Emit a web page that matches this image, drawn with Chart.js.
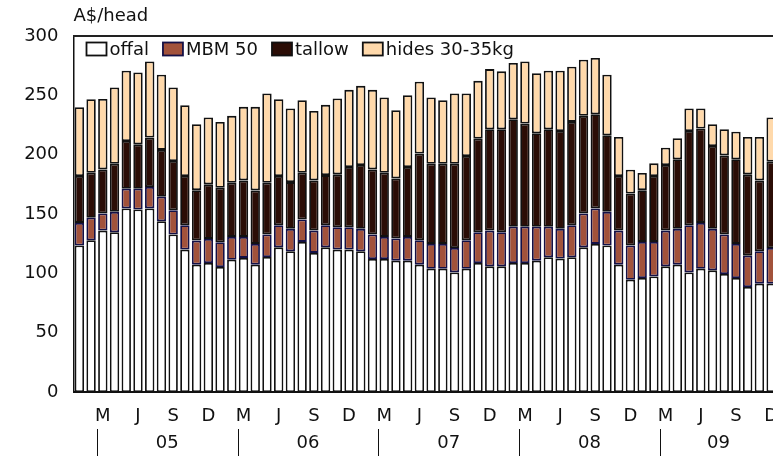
<!DOCTYPE html>
<html>
<head>
<meta charset="utf-8">
<script src="https://cdn.jsdelivr.net/npm/chart.js@4.4.1/dist/chart.umd.min.js"></script>
<style>
html,body{margin:0;padding:0;background:#fff;overflow:hidden;}
#wrap{width:777px;height:456px;}
</style>
</head>
<body>
<div id="wrap"><canvas id="c" width="777" height="456" style="width:777px;height:456px"></canvas></div>
<script>
// Months Jan 2005 .. Dec 2009
const years = [2005, 2006, 2007, 2008, 2009];
const months = [];
years.forEach(y => { for (let m = 1; m <= 12; m++) months.push(y + '-' + String(m).padStart(2, '0')); });

const monthTickLabels = {3: 'M', 6: 'J', 9: 'S', 12: 'D'};
const yearTickLabels = ['05', '06', '07', '08', '09'];
const yTicks = [0, 50, 100, 150, 200, 250, 300];
const unitLabel = 'A$/head';
const seriesNames = ['offal', 'MBM 50', 'tallow', 'hides 30-35kg'];

const offal = [123.4,127.9,136.0,134.6,154.7,153.8,154.7,143.9,132.7,120.0,107.3,108.7,
               105.4,111.5,113.0,107.3,113.8,121.9,118.6,126.5,117.2,121.9,120.0,120.0,
               118.6,112.1,112.1,110.7,110.7,107.3,103.9,103.9,100.8,103.9,108.7,105.9,
               105.9,108.7,108.7,110.7,113.5,112.4,113.5,121.9,124.8,123.4,107.3,94.6,
               96.1,97.4,105.9,107.3,100.8,103.9,102.5,99.5,96.1,88.5,91.3,91.3];
const mbm = [19.1,18.9,14.4,17.2,16.6,17.5,18.0,20.6,20.5,20.5,20.3,20.3,
             20.8,19.2,17.7,17.5,18.9,18.6,18.9,18.9,18.8,18.6,18.8,18.8,
             18.9,20.6,18.6,18.6,20.0,20.6,20.9,20.9,20.6,24.0,25.9,30.1,
             28.7,30.5,30.5,28.5,25.7,25.1,27.0,28.5,29.9,28.4,28.7,28.8,
             30.4,29.1,30.1,30.2,39.7,38.6,35.0,33.2,28.7,26.4,27.3,30.1];
const tallow = [39.5,38.0,37.2,40.6,40.2,37.4,41.7,39.5,41.4,41.5,42.5,46.0,
                45.9,45.6,47.6,45.1,43.6,41.5,39.4,39.4,42.3,42.3,44.6,50.8,
                53.8,54.9,54.1,50.7,58.9,73.0,67.6,67.6,71.0,71.0,78.9,85.4,
                86.8,90.7,87.0,78.8,82.2,82.5,87.1,82.3,79.4,64.5,46.0,43.9,
                43.6,55.5,55.3,58.6,79.5,79.5,69.8,66.7,71.3,68.5,59.7,72.7];
const hides = [58.0,62.0,59.4,64.2,59.2,60.6,64.2,63.3,62.0,59.7,55.5,56.3,
               55.5,56.4,62.0,70.4,75.2,64.8,62.0,61.1,58.6,59.2,63.9,65.0,
               66.7,67.0,63.4,57.5,60.5,60.5,55.8,53.5,59.1,52.6,48.7,50.7,
               48.8,47.3,52.4,50.7,49.3,50.7,46.5,47.3,47.3,51.0,32.9,20.0,
               14.4,10.7,14.6,17.7,18.9,16.9,18.3,22.0,23.3,31.5,36.6,37.2];

const FONT = 'DejaVu Sans';
const FS = 18;
const fills = ['#ffffff', '#a2523b', '#2b0d06', '#ffd9ab'];
const borders = ['#111111', '#141046', '#111111', '#111111'];
const seriesData = [offal, mbm, tallow, hides];

const decor = {
  id: 'decor',
  afterDraw(chart) {
    const ctx = chart.ctx, ca = chart.chartArea, xs = chart.scales.x;
    ctx.save();
    // top frame line
    ctx.strokeStyle = '#222';
    ctx.lineWidth = 2;
    ctx.beginPath();
    ctx.moveTo(ca.left - 0.5, ca.top);
    ctx.lineTo(chart.width, ca.top);
    ctx.stroke();
    // unit title
    ctx.fillStyle = '#111';
    ctx.font = FS + 'px "' + FONT + '"';
    ctx.textBaseline = 'middle';
    ctx.textAlign = 'left';
    ctx.fillText(unitLabel, ca.left, 16);
    // legend
    let x = ca.left + 13;
    const ly = 49;
    seriesNames.forEach((n, i) => {
      ctx.fillStyle = fills[i];
      ctx.fillRect(x, ly - 6.5, 20, 13);
      ctx.strokeStyle = borders[i];
      ctx.lineWidth = 1.8;
      ctx.strokeRect(x, ly - 6.5, 20, 13);
      ctx.fillStyle = '#111';
      ctx.fillText(n, x + 23, ly + 1);
      x += 23 + ctx.measureText(n).width + 14;
    });
    // year separators and labels (years run Mar..Feb)
    const sepX = [];
    years.forEach((y, k) => {
      const iMar = k * 12 + 2;
      sepX.push((xs.getPixelForValue(iMar - 1) + xs.getPixelForValue(iMar)) / 2);
    });
    ctx.strokeStyle = '#111';
    ctx.lineWidth = 1;
    sepX.forEach(sx => {
      ctx.beginPath();
      ctx.moveTo(Math.round(sx) + 0.5, 429);
      ctx.lineTo(Math.round(sx) + 0.5, 456);
      ctx.stroke();
    });
    ctx.textAlign = 'center';
    yearTickLabels.forEach((t, k) => {
      const a = sepX[k];
      const b = k + 1 < sepX.length ? sepX[k + 1] : Math.min(ca.right, chart.width);
      ctx.fillText(t, (a + b) / 2, 443);
    });
    ctx.restore();
  }
};

new Chart(document.getElementById('c'), {
  type: 'bar',
  data: {
    labels: months,
    datasets: seriesData.map((d, i) => ({
      label: seriesNames[i],
      data: d,
      backgroundColor: fills[i],
      borderColor: borders[i],
      borderWidth: 1.8,
      borderSkipped: false,
      barPercentage: 0.8,
      categoryPercentage: 1.0
    }))
  },
  options: {
    responsive: false,
    devicePixelRatio: 1,
    animation: false,
    layout: { padding: { top: 36, left: 0, right: 0, bottom: 0 } },
    plugins: { legend: { display: false }, tooltip: { enabled: false } },
    scales: {
      x: {
        stacked: true,
        grid: { display: false, drawTicks: false },
        border: { display: true, color: '#111', width: 2 },
        ticks: {
          autoSkip: false, maxRotation: 0, minRotation: 0, padding: 14,
          color: '#111', font: { family: FONT, size: FS },
          callback: function (v, i) { const m = (i % 12) + 1; return monthTickLabels[m] || ''; }
        },
        afterFit: s => { s.height = 64; s.paddingLeft = 0; s.paddingRight = 0; }
      },
      y: {
        stacked: true,
        min: 0, max: 300,
        afterBuildTicks: s => { s.ticks = yTicks.map(v => ({ value: v })); },
        grid: { display: false, drawTicks: false },
        border: { display: true, color: '#111', width: 1.5 },
        ticks: { padding: 15, color: '#111', font: { family: FONT, size: FS } },
        afterFit: s => { s.width = 73.5; s.paddingTop = 0; s.paddingBottom = 0; }
      }
    }
  },
  plugins: [decor]
});
</script>
</body>
</html>
